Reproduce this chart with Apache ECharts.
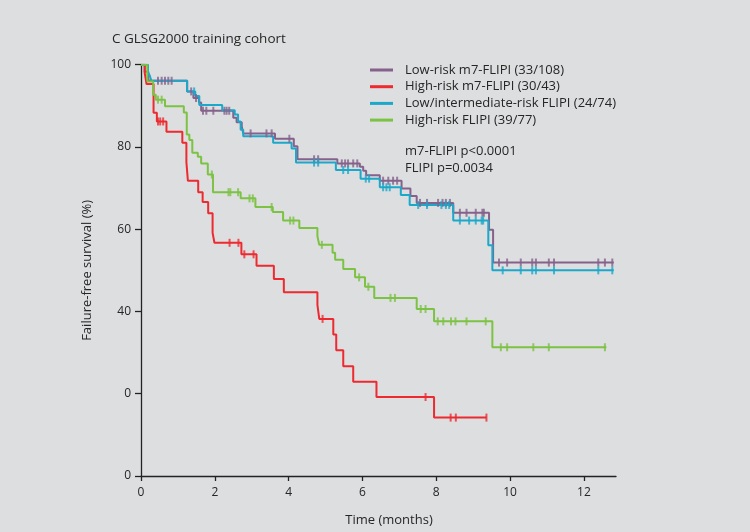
<!DOCTYPE html>
<html>
<head>
<meta charset="utf-8">
<script src="https://cdn.jsdelivr.net/npm/echarts@6/dist/echarts.min.js"></script>
<style>
  html, body { margin: 0; padding: 0; background: #dddee0; }
  #chart { width: 750px; height: 532px; }
</style>
</head>
<body>
<div id="chart"></div>
<script>
// axis ticks
const xTicks = [0, 2, 4, 6, 8, 10, 12];
const yTicks = [0, 20, 40, 60, 80, 100];
const yTickLabels = ['0', '0', '40', '60', '80', '100'];

// Low-risk m7-FLIPI (purple)
const lowM7Times = [0, 0.10, 0.20, 1.25, 1.42, 1.57, 1.63, 2.50, 2.59, 2.73, 2.77, 3.63, 4.14, 4.24, 5.32, 5.93, 6.02, 6.10, 6.47, 7.06, 7.30, 7.47, 8.46, 9.43, 9.54];
const lowM7Surv = [100, 98.3, 96.1, 93.5, 91.9, 90.8, 88.8, 87.1, 86.0, 85.0, 83.3, 82.0, 80.2, 77.0, 76.0, 75.2, 74.2, 73.1, 71.8, 69.9, 68.1, 66.4, 64.0, 59.9, 51.9];
const lowM7End = 12.81;
const lowM7Cens = [0.46, 0.56, 0.65, 0.74, 0.83, 1.36, 1.49, 1.68, 1.77, 1.96, 2.26, 2.32, 2.39, 2.97, 3.40, 3.54, 4.02, 4.69, 4.80, 5.44, 5.53, 5.61, 5.75, 5.86, 6.56, 6.70, 6.83, 6.94, 7.56, 7.75, 8.05, 8.17, 8.26, 8.37, 8.64, 8.82, 9.07, 9.25, 9.29, 9.70, 9.92, 10.29, 10.60, 10.70, 11.05, 11.19, 12.39, 12.57, 12.77];

// High-risk m7-FLIPI (red)
const highM7Times = [0, 0.10, 0.15, 0.34, 0.43, 0.69, 1.12, 1.23, 1.27, 1.55, 1.67, 1.82, 1.94, 1.99, 2.72, 3.13, 3.60, 3.87, 4.78, 4.83, 5.21, 5.29, 5.48, 5.75, 6.38, 7.94];
const highM7Surv = [100, 98.0, 95.3, 88.3, 86.2, 83.7, 81.0, 76.3, 71.8, 69.0, 66.6, 63.9, 59.1, 56.7, 53.9, 51.1, 47.9, 44.7, 41.6, 38.2, 34.4, 30.6, 26.7, 22.9, 19.2, 14.2];
const highM7End = 9.36;
const highM7Cens = [0.46, 0.52, 0.60, 2.40, 2.64, 2.80, 3.05, 4.92, 7.71, 8.39, 8.53, 9.36];

// Low/intermediate-risk FLIPI (blue)
const lowFlipiTimes = [0, 0.19, 0.24, 0.28, 1.25, 1.47, 1.58, 2.20, 2.54, 2.63, 2.70, 2.77, 3.58, 4.08, 4.20, 5.28, 5.95, 6.47, 7.04, 7.28, 8.46, 9.41, 9.52];
const lowFlipiSurv = [100, 98.1, 97.3, 96.1, 93.5, 92.4, 90.2, 88.9, 87.9, 86.2, 84.2, 82.6, 81.0, 79.6, 76.2, 74.4, 72.3, 70.2, 68.3, 65.9, 62.1, 56.1, 50.0];
const lowFlipiEnd = 12.81;
const lowFlipiCens = [1.44, 4.69, 4.80, 5.48, 5.61, 6.09, 6.18, 6.56, 6.65, 6.74, 7.51, 7.75, 8.14, 8.26, 8.35, 8.64, 8.89, 9.07, 9.23, 9.27, 9.80, 10.29, 10.60, 10.70, 11.19, 12.39, 12.77];

// High-risk FLIPI (green)
const highFlipiTimes = [0, 0.17, 0.33, 0.40, 0.65, 1.16, 1.24, 1.31, 1.39, 1.54, 1.63, 1.81, 1.95, 2.70, 3.10, 3.57, 3.85, 4.29, 4.78, 4.83, 5.19, 5.26, 5.48, 5.80, 6.07, 6.32, 7.47, 7.94, 9.52];
const highFlipiSurv = [100, 95.9, 92.7, 91.5, 89.9, 88.4, 83.0, 81.7, 78.6, 77.6, 76.0, 73.3, 69.0, 67.5, 65.4, 64.2, 62.1, 60.3, 58.3, 56.2, 54.3, 52.6, 50.3, 48.3, 46.0, 43.3, 40.6, 37.6, 31.3];
const highFlipiEnd = 12.61;
const highFlipiCens = [0.46, 0.56, 1.92, 2.37, 2.42, 2.63, 2.94, 3.03, 3.54, 4.04, 4.13, 4.90, 5.91, 6.16, 6.76, 6.88, 7.58, 7.71, 8.04, 8.19, 8.40, 8.52, 8.82, 9.34, 9.75, 9.92, 10.63, 11.05, 12.57];

const FONT = '"Open Sans", "DejaVu Sans", sans-serif';
const TEXT_COLOR = '#262626';

const curves = [
  { name: 'Low-risk m7-FLIPI (33/108)', color: '#85618b', times: lowM7Times, surv: lowM7Surv, end: lowM7End, cens: lowM7Cens },
  { name: 'High-risk m7-FLIPI (30/43)', color: '#ec2a2f', times: highM7Times, surv: highM7Surv, end: highM7End, cens: highM7Cens },
  { name: 'Low/intermediate-risk FLIPI (24/74)', color: '#1ca8c9', times: lowFlipiTimes, surv: lowFlipiSurv, end: lowFlipiEnd, cens: lowFlipiCens },
  { name: 'High-risk FLIPI (39/77)', color: '#7cc243', times: highFlipiTimes, surv: highFlipiSurv, end: highFlipiEnd, cens: highFlipiCens }
];

function survAt(times, surv, t) {
  let s = surv[0];
  for (let i = 0; i < times.length; i++) {
    if (times[i] <= t) s = surv[i];
  }
  return s;
}

const lineSeries = curves.map(c => {
  const data = c.times.map((t, i) => [t, c.surv[i]]);
  data.push([c.end, c.surv[c.surv.length - 1]]);
  return {
    name: c.name,
    type: 'line',
    step: 'end',
    data: data,
    showSymbol: false,
    symbol: 'none',
    lineStyle: { color: c.color, width: 2 },
    itemStyle: { color: c.color },
    silent: true,
    z: 2
  };
});

const censorSeries = curves.map(c => ({
  type: 'scatter',
  data: c.cens.map(t => [t, survAt(c.times, c.surv, t)]),
  symbol: 'rect',
  symbolSize: [2, 8],
  itemStyle: { color: c.color },
  silent: true,
  z: 3
}));

const chart = echarts.init(document.getElementById('chart'));
chart.setOption({
  backgroundColor: '#dddee0',
  animation: false,
  title: {
    text: 'C GLSG2000 training cohort',
    left: 112,
    top: 32,
    padding: 0,
    textStyle: { fontFamily: FONT, fontSize: 13.5, fontWeight: 'normal', color: TEXT_COLOR }
  },
  legend: {
    data: curves.map(c => c.name),
    orient: 'vertical',
    left: 370,
    top: 62,
    padding: 0,
    icon: 'rect',
    itemWidth: 23,
    itemHeight: 3,
    itemGap: 0.7,
    selectedMode: false,
    textStyle: { fontFamily: FONT, fontSize: 13, color: TEXT_COLOR, lineHeight: 16, padding: [0, 0, 0, 7] }
  },
  grid: { left: 141, right: 134, top: 64.7, bottom: 53, containLabel: false },
  xAxis: {
    type: 'value',
    min: 0,
    max: 12.87,
    name: 'Time (months)',
    nameLocation: 'middle',
    nameGap: 38,
    nameTextStyle: { fontFamily: FONT, fontSize: 13, color: TEXT_COLOR, padding: [0, 0, 0, 21] },
    axisLine: { show: true, lineStyle: { color: '#222', width: 1.3 } },
    axisTick: { show: true, length: 5, lineStyle: { color: '#222', width: 1.3 }, customValues: xTicks },
    axisLabel: { fontFamily: FONT, fontSize: 12, color: TEXT_COLOR, margin: 11, customValues: xTicks },
    splitLine: { show: false }
  },
  yAxis: {
    type: 'value',
    min: 0,
    max: 100,
    interval: 20,
    name: 'Failure-free survival (%)',
    nameLocation: 'middle',
    nameGap: 47,
    nameTextStyle: { fontFamily: FONT, fontSize: 13, color: TEXT_COLOR },
    axisLine: { show: true, lineStyle: { color: '#222', width: 1.3 } },
    axisTick: { show: true, length: 6, lineStyle: { color: '#222', width: 1.3 } },
    axisLabel: {
      fontFamily: FONT, fontSize: 12, color: TEXT_COLOR, margin: 10,
      formatter: v => yTickLabels[yTicks.indexOf(v)]
    },
    splitLine: { show: false }
  },
  graphic: [
    { type: 'text', left: 405, top: 145, style: { text: 'm7-FLIPI p<0.0001', fontFamily: FONT, fontSize: 13, fill: TEXT_COLOR } },
    { type: 'text', left: 405, top: 162, style: { text: 'FLIPI p=0.0034', fontFamily: FONT, fontSize: 13, fill: TEXT_COLOR } }
  ],
  series: lineSeries.concat(censorSeries)
});
</script>
</body>
</html>
